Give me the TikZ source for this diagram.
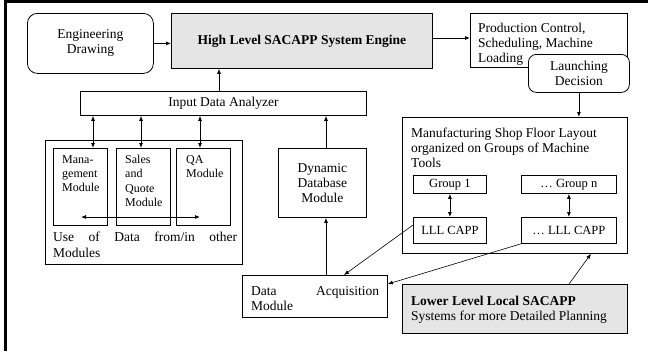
\documentclass[tikz,border=0pt]{standalone}
\usepackage{fontspec}
\setmainfont{Liberation Serif}
\usetikzlibrary{arrows.meta}
\newcommand{\myfs}{\fontsize{13.5}{15}\selectfont}
\newcommand{\mysmall}{\fontsize{12}{14.3}\selectfont}
\newcommand{\mygrp}{\fontsize{12.5}{14}\selectfont}
\begin{document}
\begin{tikzpicture}[x=1pt,y=-1pt,
  every node/.style={font=\myfs},
  box/.style={draw, line width=0.8pt, inner sep=0pt, anchor=north west, align=center},
  grayfill/.style={fill=black!10},
  txt/.style={inner sep=0pt, anchor=north west, align=left},
  arr/.style={line width=0.8pt, -{Latex[length=5pt,width=4pt]}},
  darr/.style={line width=0.8pt, {Latex[length=5pt,width=4pt]}-{Latex[length=5pt,width=4pt]}},
  thinline/.style={line width=0.6pt}
]
\useasboundingbox (0,0) rectangle (648,351);
\fill[white] (0,0) rectangle (648,351);
\draw[line width=2.8pt] (5.3,351) -- (5.3,1.5) -- (648,1.5);

% top row
\node[box, rounded corners=10pt, minimum width=126pt, minimum height=60pt] (ed) at (27,13) {Engineering\\Drawing};
\node[box, grayfill, minimum width=261pt, minimum height=55pt, font=\myfs\bfseries] (hl) at (171,13) {High Level SACAPP System Engine};
\node[box, minimum width=157pt, minimum height=54pt] (pc) at (470,13) {};
\node[txt] (pct) at (478,23) {Production Control,\\Scheduling, Machine\\Loading};
\node[box, fill=white, rounded corners=8pt, minimum width=101pt, minimum height=38pt] (ld) at (528,54) {Launching\\Decision};

% input data analyzer
\node[box, minimum width=286pt, minimum height=24pt] (ida) at (80,91) {Input Data Analyzer};

% modules
\node[box, minimum width=197pt, minimum height=124pt] (mods) at (45,140) {};
\node[box, minimum width=54pt, minimum height=77pt] (mgmt) at (53,148) {};
\node[box, minimum width=54pt, minimum height=77pt] (sales) at (116,148) {};
\node[box, minimum width=54pt, minimum height=77pt] (qa) at (176,148) {};
\node[txt, font=\mysmall] (mgmtt) at (62,155) {Mana-\\gement\\Module};
\node[txt, font=\mysmall] (salest) at (125,155) {Sales\\and\\Quote\\Module};
\node[txt, font=\mysmall] (qat) at (186,155) {QA\\Module};
\node[txt, text width=184pt, font=\fontsize{13.5}{16}\selectfont] (modst) at (53,231.5) {Use\hfill of\hfill Data\hfill from/in\hfill other\\Modules};

% dynamic database
\node[box, minimum width=88pt, minimum height=69pt] (ddm) at (278,148) {Dynamic\\Database\\Module};

% data acquisition
\node[box, minimum width=145pt, minimum height=42pt] (da) at (242,275) {};
\node[txt, text width=128pt] (dat) at (251,286.5) {Data\hfill Acquisition\\Module};

% manufacturing
\node[box, minimum width=225pt, minimum height=136pt] (mfg) at (402,117) {};
\node[txt] (mfgt) at (411,127.5) {Manufacturing Shop Floor Layout\\organized on Groups of Machine\\Tools};
\node[box, minimum width=73pt, minimum height=18pt, font=\mygrp] (g1) at (413,175) {Group 1};
\node[box, minimum width=95pt, minimum height=18pt, font=\mygrp] (gn) at (521,175) {\dots\ Group n};
\node[box, minimum width=73pt, minimum height=26pt, font=\mygrp] (l1) at (413,217) {LLL CAPP};
\node[box, minimum width=95pt, minimum height=26pt, font=\mygrp] (ln) at (521,217) {\dots\ LLL CAPP};

% lower level
\node[box, grayfill, minimum width=225pt, minimum height=49pt] (ll) at (402,284) {};
\node[txt] (llt) at (411,296) {\textbf{Lower Level Local SACAPP}\\Systems for more Detailed Planning};

% coordinates
\coordinate (x93) at (93,0);
\coordinate (x141) at (141,0);
\coordinate (x200) at (200,0);
\coordinate (x219) at (219,0);
\coordinate (x326) at (326,0);
\coordinate (x344) at (344,0);
\coordinate (x569) at (569,0);
\coordinate (x591) at (591,0);
\coordinate (y38) at (0,38);
\coordinate (y225) at (0,225);
\coordinate (y284) at (0,284);
\coordinate (h1) at (81,217);
\coordinate (h2) at (200,217);

% connectors
\draw[arr] (ed.east) -- (ed.east -| hl.west);
\draw[arr] (hl.east |- y38) -- (pc.west |- y38);
\draw[arr] (ida.north -| x219) -- (hl.south -| x219);
\draw[arr] (ld.south) -- (ld.south |- mfg.north);
\draw[darr] (ida.south -| x93) -- (mgmt.north -| x93);
\draw[darr] (ida.south -| x141) -- (sales.north -| x141);
\draw[darr] (ida.south -| x200) -- (qa.north -| x200);
\draw[darr] (h1) -- (h2);
\draw[arr] (ddm.north -| x326) -- (ida.south -| x326);
\draw[arr] (da.north -| x326) -- (ddm.south -| x326);
\draw[darr] (g1.south) -- (l1.north);
\draw[darr] (gn.south) -- (ln.north);
\draw[arr, thinline] (l1.west |- y225) -- (da.north -| x344);
\draw[arr, thinline] (ln.south west) -- (da.east |- y284);
\draw[arr, thinline] (ll.north -| x569) -- (mfg.south -| x591);
\end{tikzpicture}
\end{document}
